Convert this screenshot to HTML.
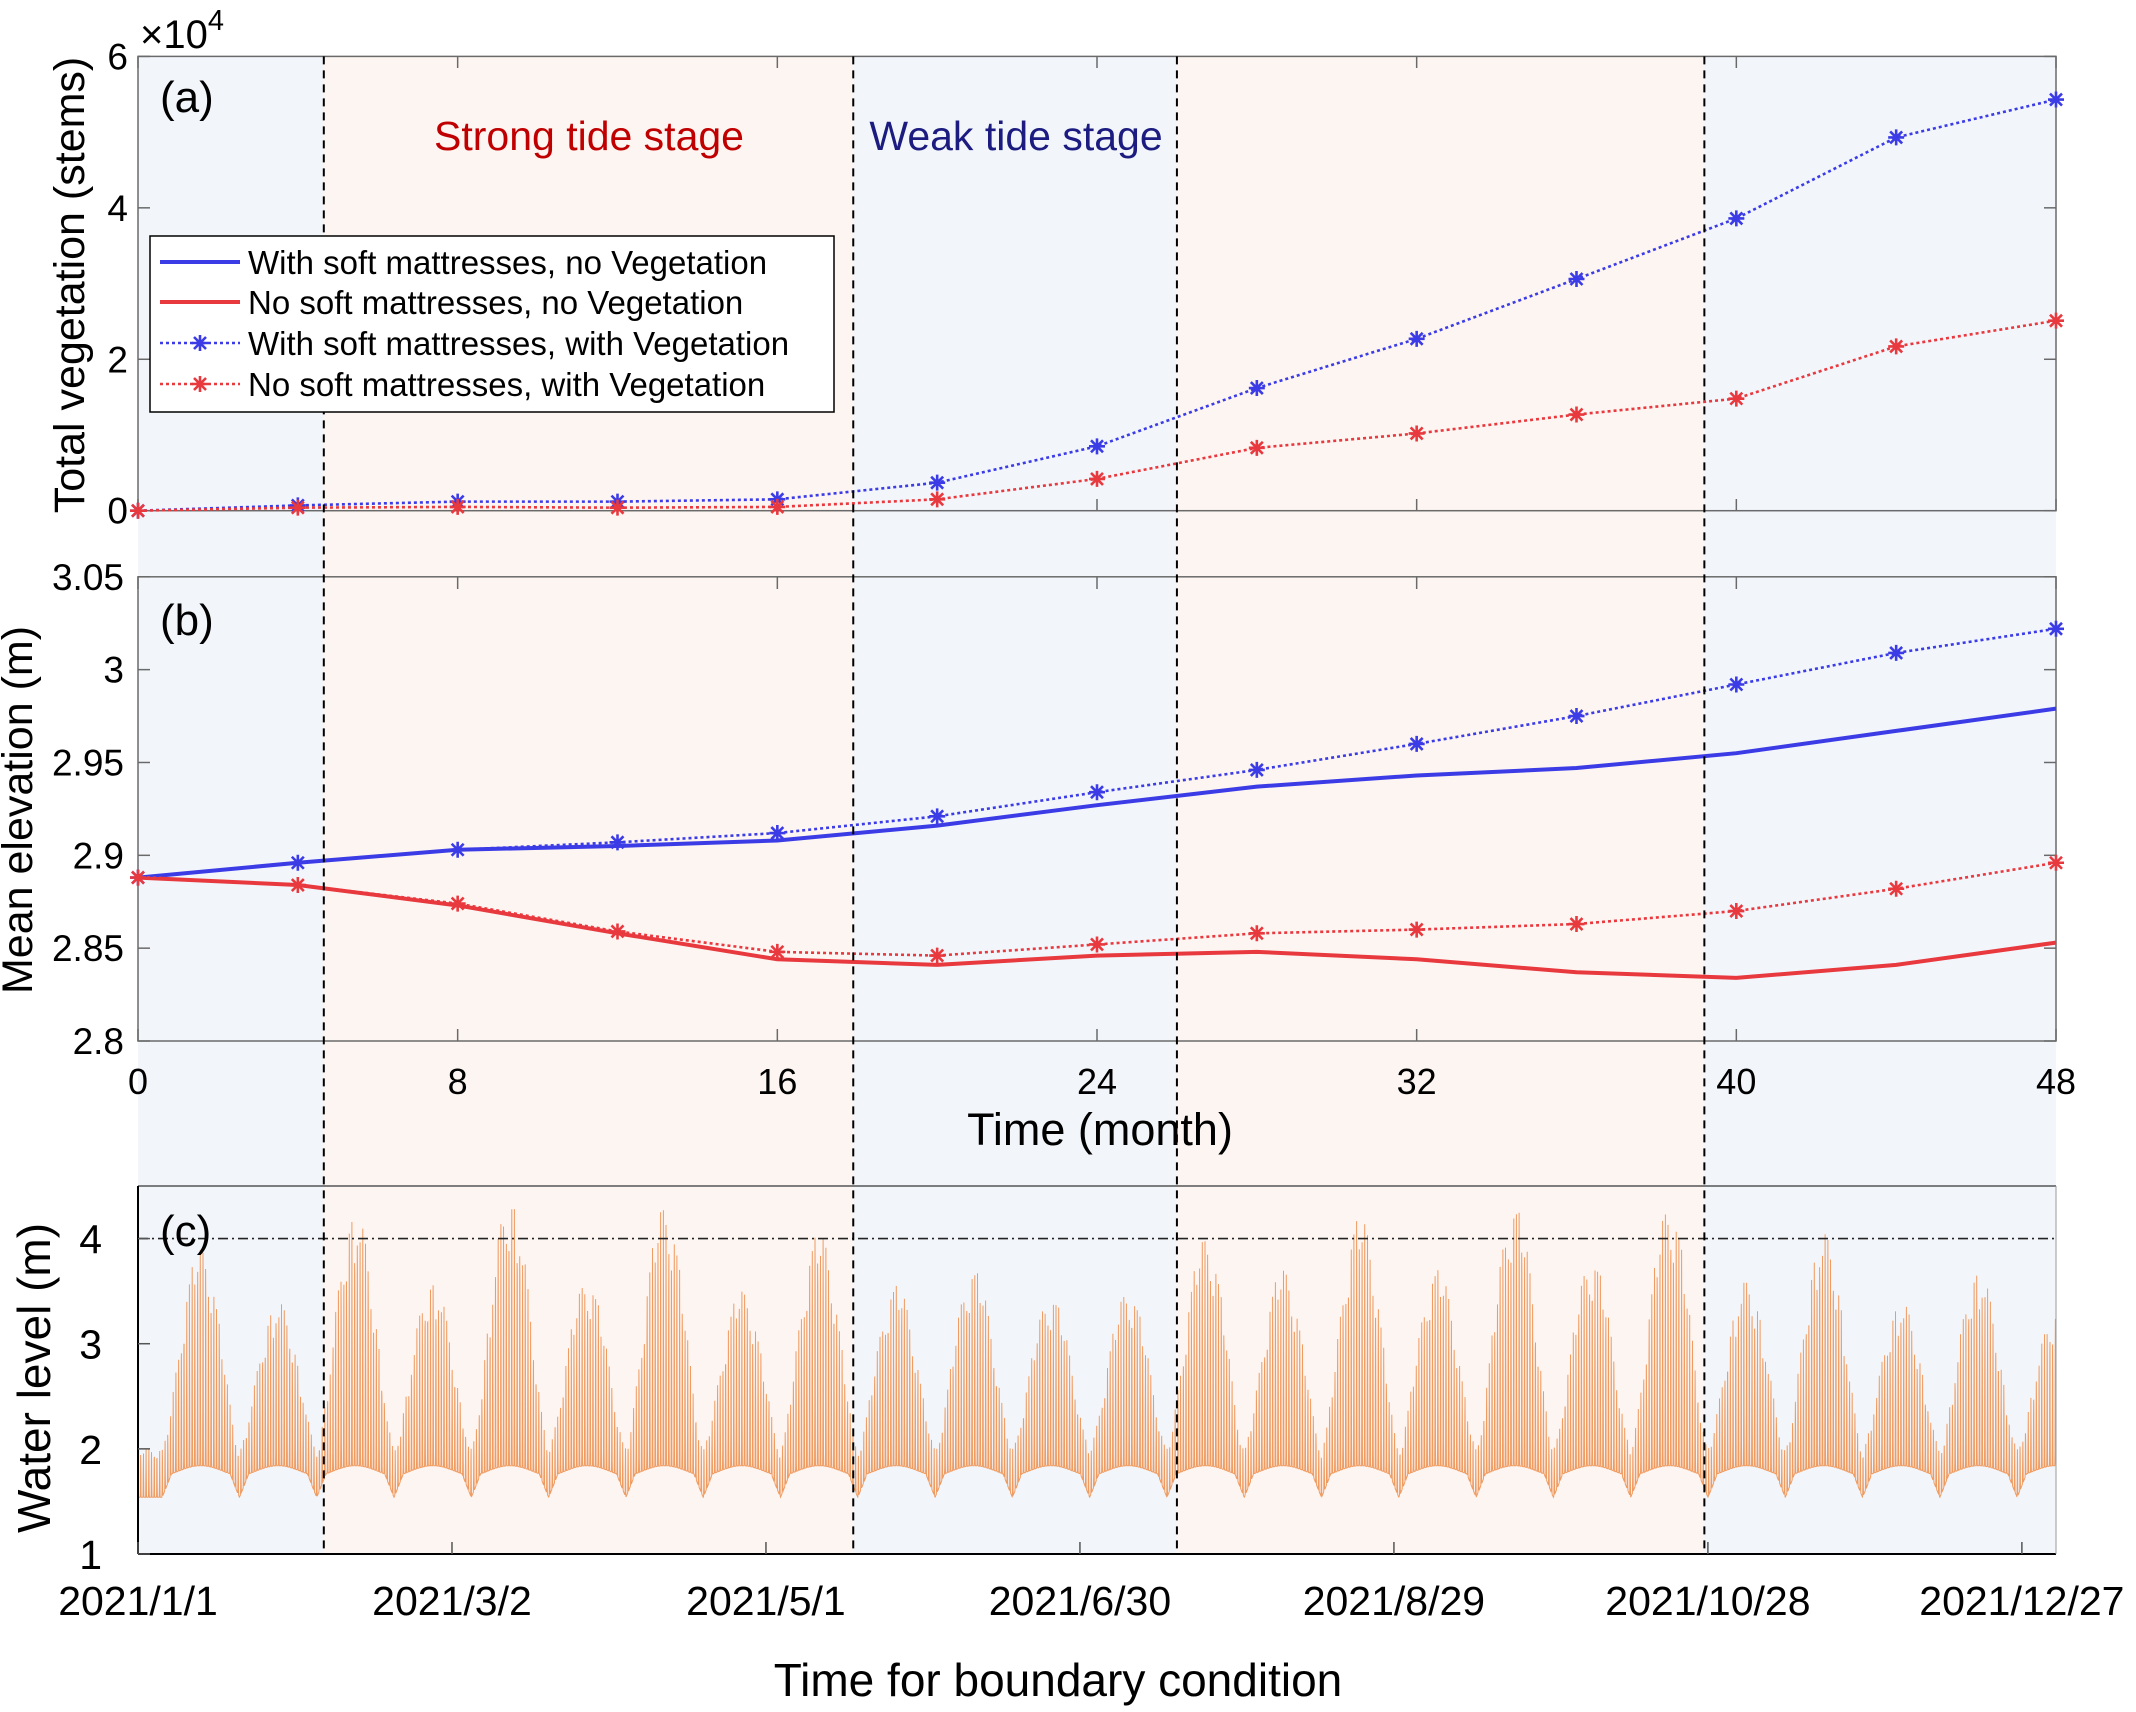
<!DOCTYPE html>
<html><head><meta charset="utf-8"><style>
html,body{margin:0;padding:0;background:#fff}
svg{display:block;font-family:"Liberation Sans",Arial,sans-serif}
</style></head><body>
<svg id="fig" width="2136" height="1712" viewBox="0 0 2136 1712" xmlns="http://www.w3.org/2000/svg">
<g id="bg"></g>
<g id="pa"></g>
<g id="pb"></g>
<g id="pc"></g>
<g id="vlines"></g>
<g id="ann">
<text x="589" y="150" font-size="41" fill="#c00000" text-anchor="middle">Strong tide stage</text>
<text x="1016" y="150" font-size="41" fill="#1c1c80" text-anchor="middle">Weak tide stage</text>
<text x="160" y="112" font-size="44" fill="#000">(a)</text>
<text x="160" y="635" font-size="44" fill="#000">(b)</text>
<text x="160" y="1246" font-size="44" fill="#000">(c)</text>
<text x="140" y="48" font-size="40" fill="#000">×10<tspan font-size="29" dy="-18">4</tspan></text>
<text transform="translate(84,285) rotate(-90)" font-size="43" text-anchor="middle">Total vegetation (stems)</text>
<text transform="translate(32,810) rotate(-90)" font-size="43" text-anchor="middle">Mean elevation (m)</text>
<text transform="translate(50,1378) rotate(-90)" font-size="46" text-anchor="middle">Water level (m)</text>
<text x="1100" y="1145" font-size="45" text-anchor="middle">Time (month)</text>
<text x="1058" y="1696" font-size="46" text-anchor="middle">Time for boundary condition</text>
</g>
<g id="legend"></g>
</svg>
<script>
// ---------- data ----------
const months = [0,4,8,12,16,20,24,28,32,36,40,44,48];
const vegWith = [0,0.07,0.12,0.12,0.15,0.37,0.85,1.62,2.27,3.06,3.86,4.93,5.43];
const vegNo   = [0,0.04,0.05,0.04,0.05,0.15,0.42,0.83,1.02,1.27,1.48,2.17,2.51];
const elevWithNoVeg = [2.888,2.896,2.903,2.905,2.908,2.916,2.927,2.937,2.943,2.947,2.955,2.967,2.979];
const elevWithVeg   = [2.888,2.896,2.903,2.907,2.912,2.921,2.934,2.946,2.960,2.975,2.992,3.009,3.022];
const elevNoNoVeg   = [2.888,2.884,2.873,2.858,2.844,2.841,2.846,2.848,2.844,2.837,2.834,2.841,2.853];
const elevNoVeg     = [2.888,2.884,2.874,2.859,2.848,2.846,2.852,2.858,2.860,2.863,2.870,2.882,2.896];
const stageBounds = [4.65,17.9,26.0,39.2];
const yTicksA = [0,2,4,6];
const yTicksB = [2.8,2.85,2.9,2.95,3,3.05];
const yTickLabelsB = ['2.8','2.85','2.9','2.95','3','3.05'];
const xTicksMonth = [0,8,16,24,32,40,48];
const yTicksC = [1,2,3,4];
const dateTickDays = [0,60,120,180,240,300,360];
const dateTickLabels = ['2021/1/1','2021/3/2','2021/5/1','2021/6/30','2021/8/29','2021/10/28','2021/12/27'];
const springPeaks = [3.9,3.4,4.25,3.6,4.4,3.6,4.3,3.5,4.05,3.55,3.7,3.45,3.5,4.0,3.7,4.2,3.7,4.3,3.8,4.3,3.6,4.05,3.4,3.7,3.3];
const threshold = 4.0;

// ---------- axes ----------
const X0=138, X1=2056;
const xm = m => X0 + (X1-X0)*m/48;
const ya = v => 510.7 - (v/6)*(510.7-56.4);
const yb = v => 1041 - (v-2.8)/0.25*(1041-576.8);
const xd = d => X0 + d*5.233;
const yc = v => 1554 - (v-1)/3.5*(1554-1186);
const NS='http://www.w3.org/2000/svg';
function mk(parent, tag, attrs){const e=document.createElementNS(NS,tag);for(const k in attrs)e.setAttribute(k,attrs[k]);parent.appendChild(e);return e;}

// shading
const bg=document.getElementById('bg');
const edges=[0,...stageBounds,48];
const fills=['#f2f6fb','#fdf5f1','#f2f6fb','#fdf5f1','#f2f6fb'];
for(let i=0;i<5;i++){
  const r=mk(bg,'rect',{x:xm(edges[i]),y:56.4,width:xm(edges[i+1])-xm(edges[i]),height:1554-56.4,fill:fills[i]});
  
  
}

function frame(g, top, bottom){
  mk(g,'rect',{x:X0,y:top,width:X1-X0,height:bottom-top,fill:'none',stroke:'#6a6a6a','stroke-width':1.5});
}
function series(g, vals, yf, color, dotted, markers, name){
  const pts=months.map((m,i)=>xm(m)+','+yf(vals[i])).join(' ');
  const pl=mk(g,'polyline',{points:pts,fill:'none',stroke:color,'stroke-width':dotted?2.6:4,'stroke-dasharray':dotted?'3 3':'none'});
  
  
  if(markers){
    months.forEach((m,i)=>{
      const cx=xm(m), cy=yf(vals[i]), r=8;
      const s=mk(g,'path',{d:`M${cx-r},${cy}H${cx+r}M${cx},${cy-r}V${cy+r}M${cx-6},${cy-6}L${cx+6},${cy+6}M${cx-6},${cy+6}L${cx+6},${cy-6}`,stroke:color,'stroke-width':2.6});
      
      
    });
  }
}
const BLUE='#3c3ce6', RED='#e8393f';

// panel a
const pa=document.getElementById('pa');
frame(pa,56.4,510.7);
yTicksA.forEach(v=>{
  mk(pa,'line',{x1:X0,x2:X0+12,y1:ya(v),y2:ya(v),stroke:'#6a6a6a','stroke-width':1.5});
  mk(pa,'line',{x1:X1,x2:X1-12,y1:ya(v),y2:ya(v),stroke:'#6a6a6a','stroke-width':1.5});
  const t=mk(pa,'text',{x:X0-10,y:ya(v)+13,'font-size':37,'text-anchor':'end'});t.textContent=v;
  
  
});
xTicksMonth.forEach(m=>{
  mk(pa,'line',{x1:xm(m),x2:xm(m),y1:56.4,y2:68,stroke:'#6a6a6a','stroke-width':1.5});
  mk(pa,'line',{x1:xm(m),x2:xm(m),y1:510.7,y2:499,stroke:'#6a6a6a','stroke-width':1.5});
});
series(pa,vegWith,ya,BLUE,true,true,'veg-with-mattress');
series(pa,vegNo,ya,RED,true,true,'veg-no-mattress');

// panel b
const pb=document.getElementById('pb');
frame(pb,576.8,1041);
yTicksB.forEach((v,i)=>{
  mk(pb,'line',{x1:X0,x2:X0+12,y1:yb(v),y2:yb(v),stroke:'#6a6a6a','stroke-width':1.5});
  mk(pb,'line',{x1:X1,x2:X1-12,y1:yb(v),y2:yb(v),stroke:'#6a6a6a','stroke-width':1.5});
  const t=mk(pb,'text',{x:X0-14,y:yb(v)+13,'font-size':37,'text-anchor':'end'});t.textContent=yTickLabelsB[i];
  
  
});
xTicksMonth.forEach(m=>{
  mk(pb,'line',{x1:xm(m),x2:xm(m),y1:576.8,y2:589,stroke:'#6a6a6a','stroke-width':1.5});
  mk(pb,'line',{x1:xm(m),x2:xm(m),y1:1041,y2:1029,stroke:'#6a6a6a','stroke-width':1.5});
  const t=mk(pb,'text',{x:xm(m),y:1094,'font-size':36,'text-anchor':'middle'});t.textContent=m;
  
  
});
series(pb,elevWithNoVeg,yb,BLUE,false,false,'elev-with-mattress-no-veg');
series(pb,elevNoNoVeg,yb,RED,false,false,'elev-no-mattress-no-veg');
series(pb,elevWithVeg,yb,BLUE,true,true,'elev-with-mattress-with-veg');
series(pb,elevNoVeg,yb,RED,true,true,'elev-no-mattress-with-veg');

// panel c
const pc=document.getElementById('pc');
const TDAYS=(X1-X0)/5.233, P=14.77, D0=12;
let d='';
for(let t=0;t<=TDAYS;t+=0.025){
  let k=Math.round((t-D0)/P); k=Math.max(0,Math.min(springPeaks.length-1,k));
  const ph=(t-(D0+k*P))/P;
  const env=Math.pow(Math.cos(Math.PI*Math.max(-0.5,Math.min(0.5,ph))),1.5);
  const peak=springPeaks[k];
  const high=2.0+(peak-2.0)*env;
  let low=1.74+0.1*env;
  const edge=Math.abs(ph);
  if(edge>0.38) low-=0.2*Math.min(1,(edge-0.38)/0.12);
  const c=Math.cos(2*Math.PI*t/0.5175);
  const ineq=(Math.floor(t/0.5175)%2)?0.8:1;
  const v=low+(high-low)*ineq*Math.pow(Math.max(0,c),6);
  d+=(d?'L':'M')+xd(t).toFixed(1)+','+yc(v).toFixed(1);
}
const wl=mk(pc,'path',{d:d,fill:'none',stroke:'#ef9c62','stroke-width':1});


const th=mk(pc,'line',{x1:X0,x2:X1,y1:yc(threshold),y2:yc(threshold),stroke:'#222','stroke-width':1.6,'stroke-dasharray':'10 4 2 4'});


mk(pc,'line',{x1:X0,x2:X1,y1:1186,y2:1186,stroke:'#555','stroke-width':1.5});
mk(pc,'line',{x1:X0,x2:X1,y1:1554,y2:1554,stroke:'#000','stroke-width':2});
mk(pc,'line',{x1:X0,x2:X0,y1:1186,y2:1554,stroke:'#000','stroke-width':2});
mk(pc,'line',{x1:X1,x2:X1,y1:1186,y2:1554,stroke:'#999','stroke-width':1});
yTicksC.forEach(v=>{
  mk(pc,'line',{x1:X0,x2:X0+12,y1:yc(v),y2:yc(v),stroke:'#555','stroke-width':1.5});
  const t=mk(pc,'text',{x:X0-36,y:yc(v)+15,'font-size':41,'text-anchor':'end'});t.textContent=v;
  
  
});
dateTickDays.forEach((dd,i)=>{
  mk(pc,'line',{x1:xd(dd),x2:xd(dd),y1:1554,y2:1542,stroke:'#555','stroke-width':1.5});
  const t=mk(pc,'text',{x:xd(dd),y:1615,'font-size':41,'text-anchor':'middle'});t.textContent=dateTickLabels[i];
  
  
});

// stage boundaries
const vg=document.getElementById('vlines');
stageBounds.forEach(m=>{
  const l=mk(vg,'line',{x1:xm(m),x2:xm(m),y1:56.4,y2:1554,stroke:'#000','stroke-width':2,'stroke-dasharray':'8 6'});
  
  
});

// legend
const lg=document.getElementById('legend');
mk(lg,'rect',{x:150,y:236,width:684,height:176,fill:'#fff',stroke:'#000','stroke-width':1.5});
const legItems=[['With soft mattresses, no Vegetation',BLUE,false],['No soft mattresses, no Vegetation',RED,false],['With soft mattresses, with Vegetation',BLUE,true],['No soft mattresses, with Vegetation',RED,true]];
const legY=[262,302,343,384];
legItems.forEach((it,i)=>{
  const y=legY[i];
  const g=mk(lg,'g',{});
  
  
  mk(g,'line',{x1:160,x2:240,y1:y,y2:y,stroke:it[1],'stroke-width':it[2]?2.6:4,'stroke-dasharray':it[2]?'3 3':'none'});
  if(it[2]){const cx=200,r=8;mk(g,'path',{d:`M${cx-r},${y}H${cx+r}M${cx},${y-r}V${y+r}M${cx-6},${y-6}L${cx+6},${y+6}M${cx-6},${y+6}L${cx+6},${y-6}`,stroke:it[1],'stroke-width':2.6});}
  const t=mk(g,'text',{x:248,y:y+12,'font-size':33});t.textContent=it[0];
});
</script>
</body></html>
